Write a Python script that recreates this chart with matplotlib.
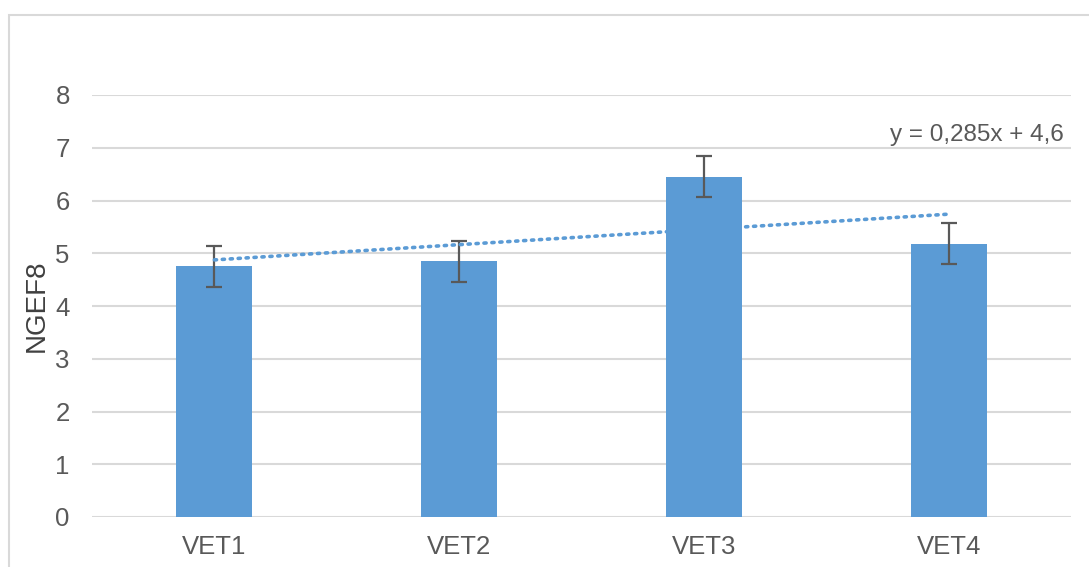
import matplotlib.pyplot as plt
from matplotlib.patches import Rectangle
import numpy as np

plt.rcParams['font.family'] = ['Liberation Sans', 'DejaVu Sans']

categories = ['VET1', 'VET2', 'VET3', 'VET4']
values = [4.75, 4.85, 6.45, 5.18]
errors = [0.39, 0.39, 0.39, 0.39]
trend_label = 'y = 0,285x + 4,6'

W, H = 1089, 567
fig = plt.figure(figsize=(W / 100, H / 100), dpi=100)
ax = fig.add_axes([92 / W, (H - 517) / H, (1071 - 92) / W, (517 - 95) / H])

# chart area border (Excel style)
fig.patches.append(Rectangle((9 / W, -0.1), 1.2, (H - 15) / H + 0.1,
                             transform=fig.transFigure, fill=False,
                             edgecolor='#d9d9d9', linewidth=1.5))

x = np.arange(1, len(categories) + 1)
ax.bar(x, values, width=0.31, color='#5b9bd5', zorder=2)
ax.errorbar(x, values, yerr=errors, fmt='none', ecolor='#595959',
            elinewidth=1.6, capsize=6, capthick=1.6, zorder=3)

# linear trendline
k, b = np.polyfit(x, values, 1)
ax.plot(x[[0, -1]], k * x[[0, -1]] + b, linestyle=(0, (0.6, 1.6)),
        color='#5b9bd5', linewidth=2.6, dash_capstyle='round', zorder=4)
ax.text(4.47, 7.24, trend_label, ha='right', va='center',
        fontsize=17.5, color='#595959')

ax.set_xlim(0.5, 4.5)
ax.set_ylim(0, 8)
ax.set_yticks(range(0, 9))
ax.set_xticks(x)
ax.set_xticklabels(categories)
ax.grid(axis='y', color='#d9d9d9', linewidth=1.5, zorder=0)
ax.set_axisbelow(True)
for s in ax.spines.values():
    s.set_visible(False)
ax.tick_params(length=0, labelsize=18.5, labelcolor='#595959')
ax.tick_params(axis='y', pad=16)
ax.tick_params(axis='x', pad=13)
ax.set_ylabel('NGEF8', fontsize=20, color='#404040', labelpad=4)

fig.savefig('out.png', dpi=100)
